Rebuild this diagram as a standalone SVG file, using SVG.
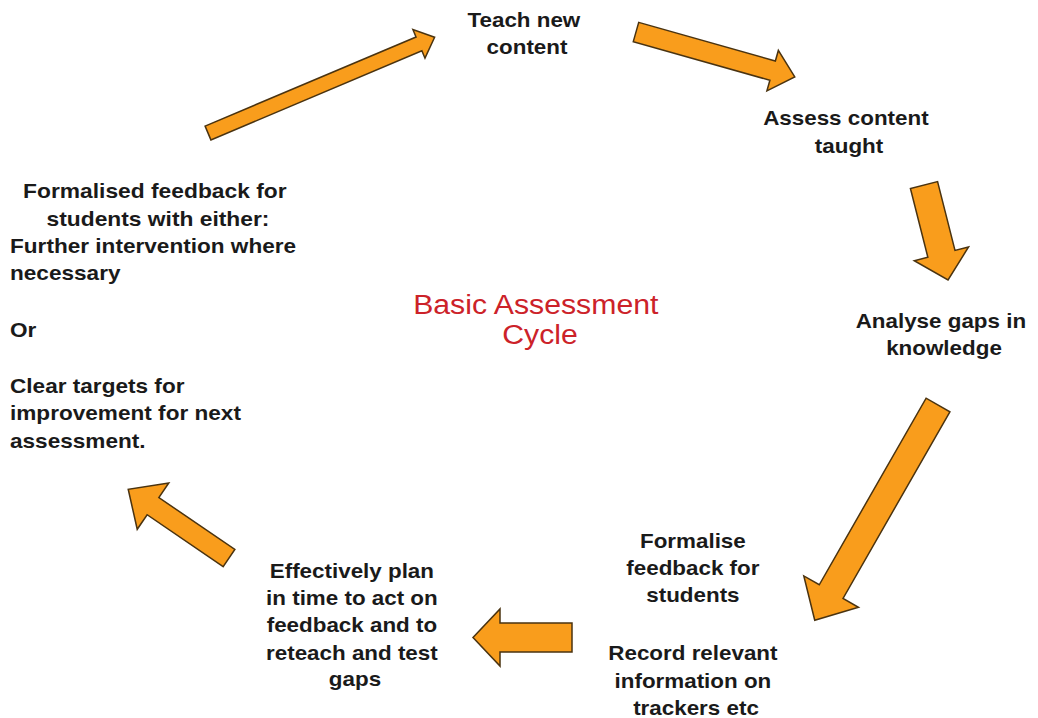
<svg xmlns="http://www.w3.org/2000/svg" width="1038" height="718" viewBox="0 0 1038 718">
  <style>
    .arrow { fill: #f99d1c; stroke: #4a3310; stroke-width: 1.5; stroke-linejoin: miter; }
    .lbl { font-family: "Liberation Sans", Arial, sans-serif; font-weight: bold; font-size: 20px; fill: #1a1a1a; }
    .mid { text-anchor: middle; }
    .title { font-family: "Liberation Sans", Arial, sans-serif; font-size: 27px; fill: #cc2229; text-anchor: middle; }
  </style>
  <rect width="1038" height="718" fill="#ffffff"/>

  <!-- cycle arrows: each drawn along +x from its tail, then placed -->
  <g id="connectors">
    <path class="arrow" transform="translate(208 133) rotate(-22.9)" d="M0,-7.5 L229,-7.5 L229,-15.5 L246,0 L229,15.5 L229,7.5 L0,7.5 Z"/>
    <path class="arrow" transform="translate(636 32) rotate(15.8)" d="M0,-10 L142,-10 L142,-21 L165,0 L142,21 L142,10 L0,10 Z"/>
    <path class="arrow" transform="translate(924 185) rotate(75.8)" d="M0,-14 L71,-14 L71,-28 L98,0 L71,28 L71,14 L0,14 Z"/>
    <path class="arrow" transform="translate(938 405) rotate(119.8)" d="M0,-13.7 L215,-13.7 L215,-31.5 L248,0 L215,31.5 L215,13.7 L0,13.7 Z"/>
    <path class="arrow" transform="translate(572 637.5) rotate(180)" d="M0,-14.5 L72,-14.5 L72,-28.5 L99,0 L72,28.5 L72,14.5 L0,14.5 Z"/>
    <path class="arrow" transform="translate(229 558) rotate(214.3)" d="M0,-10.4 L92,-10.4 L92,-28 L122,0 L92,28 L92,10.4 L0,10.4 Z"/>
  </g>

  <g id="node-teach">
    <text class="lbl mid" transform="translate(527 0) scale(1.12 1)">
      <tspan x="0" y="27">Teach new</tspan>
      <tspan x="0" y="54">content</tspan>
    </text>
  </g>

  <g id="node-assess">
    <text class="lbl mid" transform="translate(849 0) scale(1.12 1)">
      <tspan x="0" y="125">Assess content</tspan>
      <tspan x="0" y="153">taught</tspan>
    </text>
  </g>

  <g id="node-analyse">
    <text class="lbl mid" transform="translate(944 0) scale(1.12 1)">
      <tspan x="0" y="328">Analyse gaps in</tspan>
      <tspan x="0" y="355">knowledge</tspan>
    </text>
  </g>

  <g id="node-formalise">
    <text class="lbl mid" transform="translate(696 0) scale(1.12 1)">
      <tspan x="0" y="548">Formalise</tspan>
      <tspan x="0" y="575">feedback for</tspan>
      <tspan x="0" y="602">students</tspan>
      <tspan x="0" y="660">Record relevant</tspan>
      <tspan x="0" y="688">information on</tspan>
      <tspan x="0" y="715">trackers etc</tspan>
    </text>
  </g>

  <g id="node-plan">
    <text class="lbl mid" transform="translate(355 0) scale(1.12 1)">
      <tspan x="0" y="578">Effectively plan</tspan>
      <tspan x="0" y="605">in time to act on</tspan>
      <tspan x="0" y="632">feedback and to</tspan>
      <tspan x="0" y="660">reteach and test</tspan>
      <tspan x="0" y="686">gaps</tspan>
    </text>
  </g>

  <g id="node-feedback">
    <text class="lbl mid" transform="translate(158 0) scale(1.14 1)">
      <tspan x="0" y="198">Formalised feedback for</tspan>
      <tspan x="0" y="226">students with either:</tspan>
    </text>
    <text class="lbl" transform="translate(10 0) scale(1.13 1)">
      <tspan x="0" y="253">Further intervention where</tspan>
      <tspan x="0" y="280">necessary</tspan>
      <tspan x="0" y="337">Or</tspan>
      <tspan x="0" y="393">Clear targets for</tspan>
      <tspan x="0" y="420">improvement for next</tspan>
      <tspan x="0" y="448">assessment.</tspan>
    </text>
  </g>

  <g id="title">
    <text class="title" transform="translate(540 0) scale(1.12 1)">
      <tspan x="0" y="314">Basic Assessment</tspan>
      <tspan x="0" y="344">Cycle</tspan>
    </text>
  </g>
</svg>
